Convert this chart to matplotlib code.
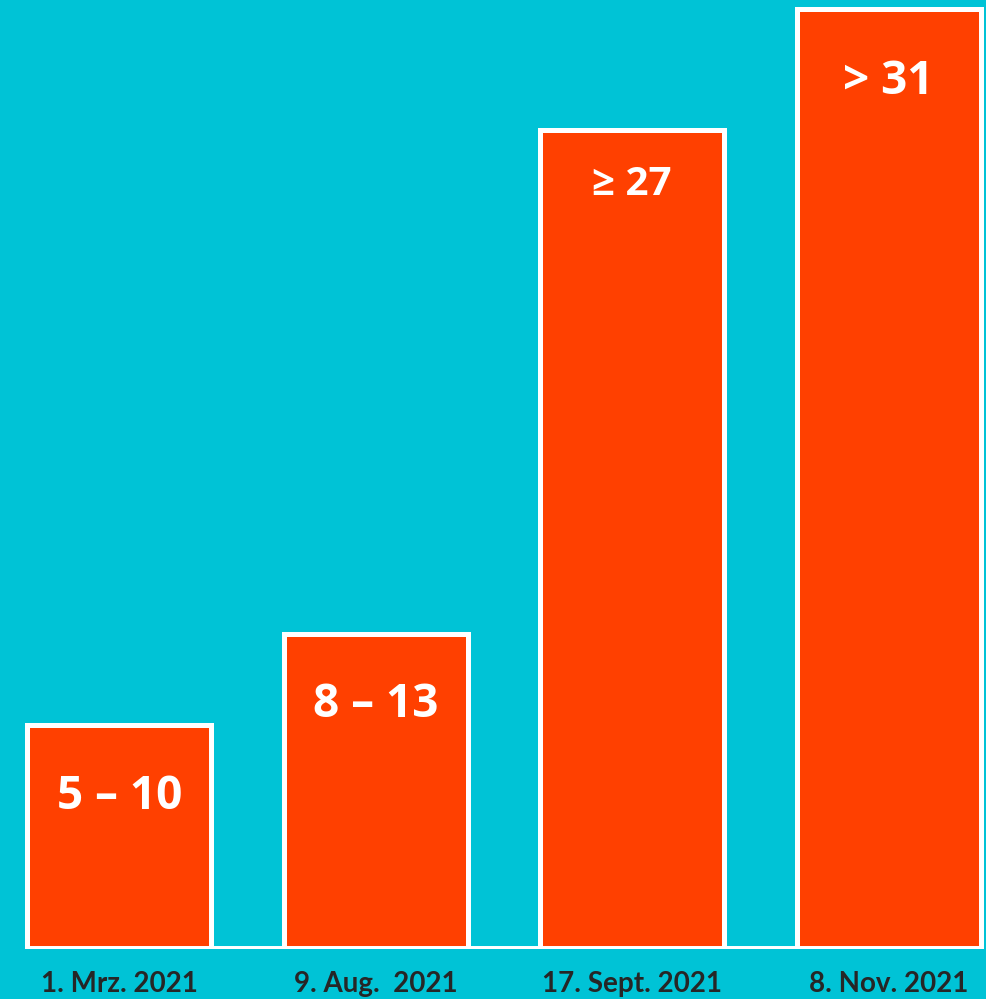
import matplotlib.pyplot as plt
import numpy as np

# Data
dates = ['1. Mrz. 2021', '9. Aug.  2021', '17. Sept. 2021', '8. Nov. 2021']
values = [7.4, 10.4, 27, 31]
value_labels = ['5 \u2013 10', '8 \u2013 13', '\u2265 27', '> 31']

bg = '#00C3D6'
bar_color = '#FF4000'

fig = plt.figure(figsize=(9.87, 9.99), dpi=100, facecolor=bg)
ax = fig.add_axes([0, 0.05, 1, 0.95])
ax.set_facecolor(bg)

x = np.arange(len(values))
width = 0.718
ax.bar(x, values, width=width, color=bar_color, edgecolor='white', linewidth=3.6, zorder=2)
ax.hlines(0, x[0] - width / 2, x[-1] + width / 2, color='white', linewidth=4.3, zorder=3)

ax.set_xlim(-0.466, 3.384)
ax.set_ylim(0, 31.29)
ax.axis('off')

# value labels inside the bars (offset down from the top, in points)
offsets = [-52, -51, -39, -52]
sizes = [33, 33, 29, 33]
for xi, v, lab, off, fs in zip(x, values, value_labels, offsets, sizes):
    ax.annotate(lab, (xi, v), xytext=(0, off), textcoords='offset points',
                ha='center', va='center', color='white', fontsize=fs,
                fontweight='bold', family='Open Sans', zorder=4)

# date labels under the bars
for xi, d in zip(x, dates):
    ax.annotate(d, (xi, 0), xytext=(0, -25), textcoords='offset points',
                ha='center', va='center', color='#262626', fontsize=20,
                fontweight='bold', family='Lato', annotation_clip=False)

fig.savefig('out.png', dpi=100, facecolor=bg)
